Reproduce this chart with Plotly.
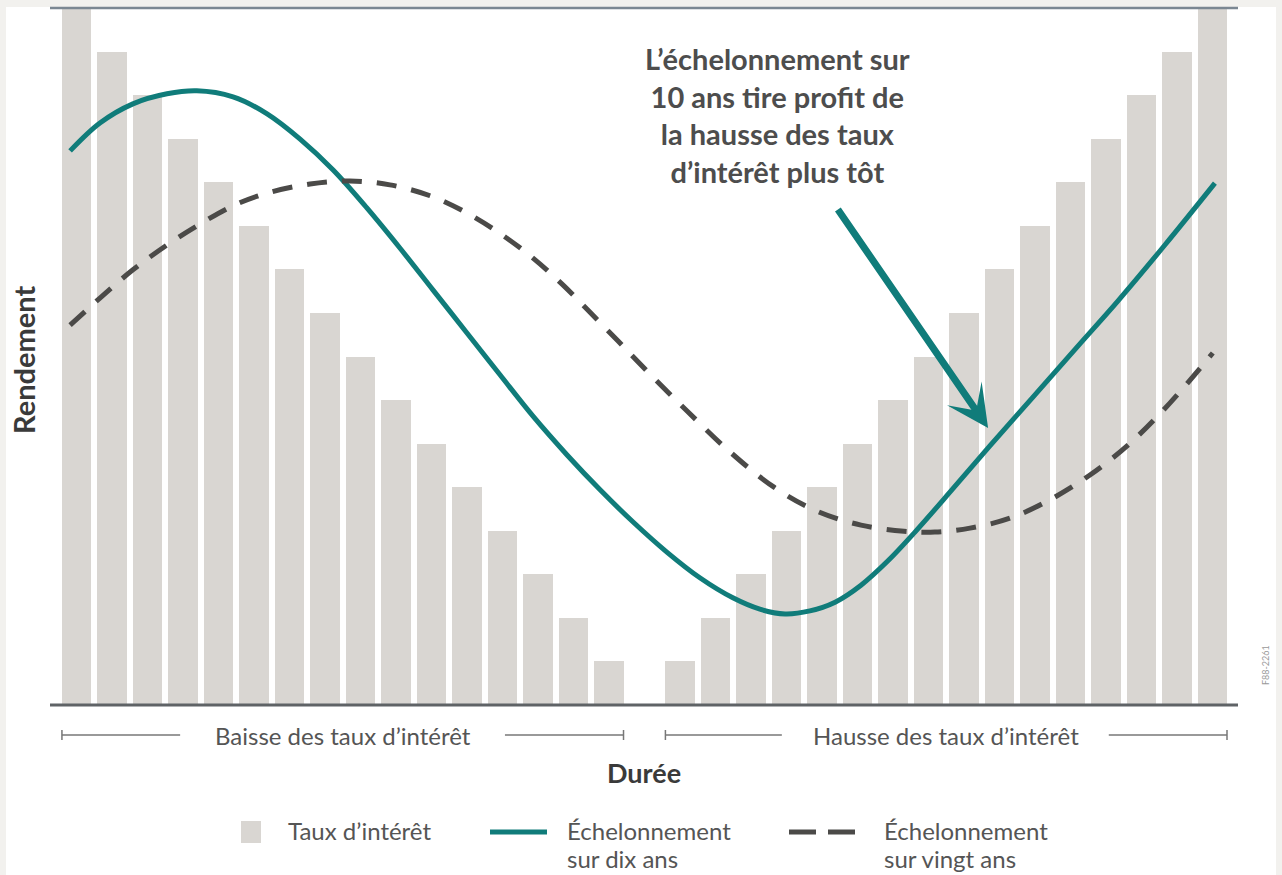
import plotly.graph_objects as go

# ---------------- data ----------------
periods = [0, 1, 2, 3, 4, 5, 6, 7, 8, 9, 10, 11, 12, 13, 14, 15, 16,
           17, 18, 19, 20, 21, 22, 23, 24, 25, 26, 27, 28, 29, 30, 31, 32]
rates = [16, 15, 14, 13, 12, 11, 10, 9, 8, 7, 6, 5, 4, 3, 2, 1, None,
         1, 2, 3, 4, 5, 6, 7, 8, 9, 10, 11, 12, 13, 14, 15, 16]

ten_x = [-0.18, 0.66, 1.59, 2.55, 3.39, 4.41, 5.37, 6.30, 7.23, 8.18, 9.11, 10.04,
         11.00, 11.93, 12.86, 13.82, 14.75, 15.68, 16.63, 17.56, 18.49, 19.25, 19.96,
         20.66, 21.37, 22.10, 22.86, 23.62, 24.61, 25.73, 27.00, 28.21, 29.31, 30.66, 32.07]
ten_y = [12.72, 13.36, 13.80, 14.03, 14.10, 13.96, 13.57, 12.99, 12.28, 11.41, 10.49, 9.53,
         8.54, 7.58, 6.63, 5.74, 4.94, 4.20, 3.51, 2.92, 2.46, 2.20, 2.09,
         2.16, 2.36, 2.75, 3.31, 3.97, 4.89, 5.95, 7.12, 8.24, 9.25, 10.56, 11.98]

twenty_x = [-0.18, 0.66, 1.59, 2.55, 3.48, 4.41, 5.37, 6.58, 7.70, 8.83, 9.96, 10.94,
            11.87, 12.83, 13.68, 14.46, 15.25, 16.15, 17.20, 18.41, 19.65, 20.86, 22.10,
            23.31, 24.18, 25.17, 26.30, 27.42, 28.55, 29.68, 30.80, 32.01]
twenty_y = [8.72, 9.34, 9.99, 10.56, 11.04, 11.46, 11.75, 11.96, 12.03, 11.94, 11.69, 11.32,
            10.86, 10.28, 9.66, 9.02, 8.36, 7.60, 6.75, 5.81, 5.00, 4.45, 4.13,
            3.99, 3.97, 4.06, 4.29, 4.71, 5.28, 6.01, 6.93, 8.08]

bracket_labels = ["Baisse des taux d\u2019intérêt", "Hausse des taux d\u2019intérêt"]
legend_labels = ["Taux d\u2019intérêt", "Échelonnement", "sur dix ans", "Échelonnement", "sur vingt ans"]
callout = "L\u2019échelonnement sur<br>10 ans tire profit de<br>la hausse des taux<br>d\u2019intérêt plus tôt"

# ---------------- style ----------------
BAR = "#d9d6d2"
TEAL = "#107c7a"
DASH = "#4b4a48"
TXT = "#555555"
FONT = "Lato"

W, H = 1282, 875
ML, MR, MT, MB = 50, 44, 8, 170
PW, PH = W - ML - MR, H - MT - MB


def px(xp):
    return (xp - ML) / PW


def py(yp):
    return (H - MB - yp) / PH


fig = go.Figure()
fig.add_trace(go.Bar(x=periods, y=rates, width=0.82, marker=dict(color=BAR, line=dict(width=0)),
                     name="Taux d'intérêt", showlegend=False, hoverinfo="skip"))
fig.add_trace(go.Scatter(x=ten_x, y=ten_y, mode="lines", line=dict(color=TEAL, width=5, shape="spline"),
                         name="Échelonnement sur dix ans", showlegend=False))
fig.add_trace(go.Scatter(x=twenty_x, y=twenty_y, mode="lines",
                         line=dict(color=DASH, width=5, shape="spline", dash="20px,15px"),
                         name="Échelonnement sur vingt ans", showlegend=False))

shapes = []
# white panel on light grey page
shapes.append(dict(type="rect", xref="paper", yref="paper", x0=px(6), x1=px(1276), y0=py(876), y1=py(7),
                   fillcolor="white", line=dict(width=0), layer="below"))
# top and bottom rules
shapes.append(dict(type="line", xref="paper", yref="paper", x0=px(50), x1=px(1238), y0=py(8), y1=py(8),
                   line=dict(color="#7b8792", width=2.5)))
shapes.append(dict(type="line", xref="paper", yref="paper", x0=px(50), x1=px(1238), y0=py(705), y1=py(705),
                   line=dict(color="#5f6366", width=3)))
# brackets under the axis
by = py(735)
for a, b in [(-0.41, 2.92), (12.07, 15.41), (16.59, 19.87), (29.08, 32.41)]:
    shapes.append(dict(type="line", xref="x", yref="paper", x0=a, x1=b, y0=by, y1=by,
                       line=dict(color="#777777", width=1.5)))
for t in [-0.41, 15.41, 16.59, 32.41]:
    shapes.append(dict(type="line", xref="x", yref="paper", x0=t, x1=t, y0=py(730), y1=py(740),
                       line=dict(color="#777777", width=1.5)))
# legend glyphs
shapes.append(dict(type="rect", xref="paper", yref="paper", x0=px(241), x1=px(261), y0=py(843), y1=py(821),
                   fillcolor=BAR, line=dict(width=0)))
shapes.append(dict(type="line", xref="paper", yref="paper", x0=px(490), x1=px(547), y0=py(832), y1=py(832),
                   line=dict(color=TEAL, width=5)))
shapes.append(dict(type="line", xref="paper", yref="paper", x0=px(789), x1=px(855), y0=py(832), y1=py(832),
                   line=dict(color=DASH, width=5, dash="27px,12px")))

ann = []
ann.append(dict(x=7.5, y=by, xref="x", yref="paper", text=bracket_labels[0], showarrow=False,
                font=dict(family=FONT, size=24, color=TXT), xanchor="center", yanchor="middle"))
ann.append(dict(x=24.5, y=by, xref="x", yref="paper", text=bracket_labels[1], showarrow=False,
                font=dict(family=FONT, size=24, color=TXT), xanchor="center", yanchor="middle"))
ann.append(dict(x=px(644), y=py(772), xref="paper", yref="paper", text="<b>Durée</b>", showarrow=False,
                font=dict(family=FONT, size=27, color="#3a3a3a"), xanchor="center", yanchor="middle"))
ann.append(dict(x=px(23), y=py(360), xref="paper", yref="paper", text="<b>Rendement</b>", showarrow=False,
                textangle=-90, font=dict(family=FONT, size=29, color="#3a3a3a"),
                xanchor="center", yanchor="middle"))
ann.append(dict(x=px(1265), y=py(665), xref="paper", yref="paper", text="F88-2261", showarrow=False,
                textangle=-90, font=dict(family=FONT, size=9, color="#999999"),
                xanchor="center", yanchor="middle"))
# callout
ann.append(dict(x=19.76, y=13.55, xref="x", yref="y", text="<b>" + callout + "</b>", showarrow=False,
                align="center", font=dict(family=FONT, size=29, color="#4d4d4d"),
                xanchor="center", yanchor="middle"))
ann.append(dict(x=25.68, y=6.36, xref="x", yref="y", ax=21.42, ay=11.41, axref="x", ayref="y",
                text="", showarrow=True, arrowhead=3, arrowsize=1.0, arrowwidth=7,
                arrowcolor=TEAL, standoff=0))
# legend text
ann.append(dict(x=px(286), y=py(831), xref="paper", yref="paper", text=legend_labels[0], showarrow=False,
                font=dict(family=FONT, size=24, color=TXT), xanchor="left", yanchor="middle"))
ann.append(dict(x=px(565), y=py(831), xref="paper", yref="paper", text=legend_labels[1], showarrow=False,
                font=dict(family=FONT, size=24, color=TXT), xanchor="left", yanchor="middle"))
ann.append(dict(x=px(565), y=py(858), xref="paper", yref="paper", text=legend_labels[2], showarrow=False,
                font=dict(family=FONT, size=24, color=TXT), xanchor="left", yanchor="middle"))
ann.append(dict(x=px(882), y=py(831), xref="paper", yref="paper", text=legend_labels[3], showarrow=False,
                font=dict(family=FONT, size=24, color=TXT), xanchor="left", yanchor="middle"))
ann.append(dict(x=px(882), y=py(858), xref="paper", yref="paper", text=legend_labels[4], showarrow=False,
                font=dict(family=FONT, size=24, color=TXT), xanchor="left", yanchor="middle"))

fig.update_layout(
    width=W, height=H,
    margin=dict(l=ML, r=MR, t=MT, b=MB, pad=0),
    paper_bgcolor="#f2f1ee",
    plot_bgcolor="rgba(0,0,0,0)",
    bargap=0,
    showlegend=False,
    xaxis=dict(range=[-0.746, 32.72], visible=False, fixedrange=True),
    yaxis=dict(range=[0, 16], visible=False, fixedrange=True),
    shapes=shapes,
    annotations=ann,
    font=dict(family=FONT),
)

fig.write_html("out.html", config={"displayModeBar": False},
               post_script="document.body.style.margin='0px';document.body.style.overflow='hidden';")
